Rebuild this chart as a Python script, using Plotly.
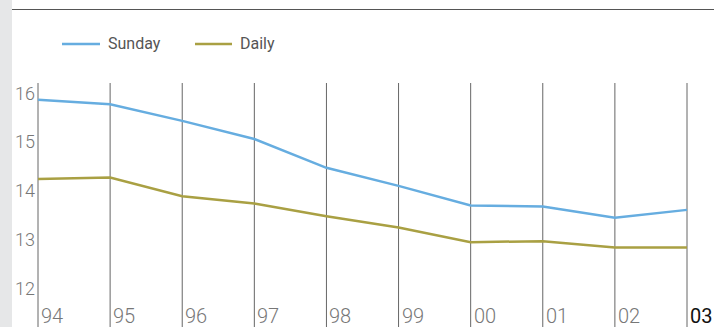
import plotly.graph_objects as go

# Circulation by year (millions)
years = ["94", "95", "96", "97", "98", "99", "00", "01", "02", "03"]
sunday = [15.86, 15.77, 15.43, 15.06, 14.47, 14.10, 13.70, 13.68, 13.45, 13.61]
daily = [14.24, 14.27, 13.89, 13.74, 13.48, 13.25, 12.95, 12.97, 12.84, 12.84]
series_names = ["Sunday", "Daily"]
series_colors = ["#66ade0", "#a9a043"]
y_ticks = [12, 13, 14, 15, 16]

W, H = 714, 327
FONT = "Roboto"

x_idx = list(range(len(years)))

fig = go.Figure()
for name, vals, col in zip(series_names, [sunday, daily], series_colors):
    fig.add_trace(go.Scatter(
        x=x_idx, y=vals, mode="lines", name=name,
        line=dict(color=col, width=2.5), showlegend=False,
        hoverinfo="skip",
    ))

shapes = []
annotations = []

# grey strip on the left edge
shapes.append(dict(type="rect", xref="paper", yref="paper",
                   x0=0, x1=12 / W, y0=0, y1=1,
                   fillcolor="#e6e7e8", line=dict(width=0), layer="below"))
# rule across the top
shapes.append(dict(type="line", xref="paper", yref="paper",
                   x0=12 / W, x1=1, y0=1 - 9.5 / H, y1=1 - 9.5 / H,
                   line=dict(color="#555555", width=1.2)))

# vertical year dividers with labels beside them
for i, lab in enumerate(years):
    last = i == len(years) - 1
    shapes.append(dict(type="line", xref="x", yref="paper",
                       x0=i, x1=i, y0=0, y1=1 - 83 / H,
                       line=dict(color="#666666", width=1), layer="below"))
    annotations.append(dict(x=i, y=1 - 316 / H, xref="x", yref="paper",
                            text=lab, showarrow=False, xanchor="left",
                            yanchor="middle", xshift=1,
                            font=dict(family=FONT, size=20,
                                      weight=400 if last else 300,
                                      color="#111111" if last else "#777777")))

# y value labels
for v in y_ticks:
    annotations.append(dict(x=37 / W, y=v, xref="paper", yref="y",
                            text=str(v), showarrow=False, xanchor="right",
                            yanchor="middle",
                            font=dict(family=FONT, size=18, weight=300, color="#777777")))

# legend
legend_x = [(62, 100, 106), (195, 232, 238)]
for (lx0, lx1, tx), name, col in zip(legend_x, series_names, series_colors):
    ly = 1 - 44 / H
    shapes.append(dict(type="line", xref="paper", yref="paper",
                       x0=lx0 / W, x1=lx1 / W, y0=ly, y1=ly,
                       line=dict(color=col, width=2.5)))
    annotations.append(dict(x=tx / W, y=ly, xref="paper", yref="paper",
                            text=name, showarrow=False, xanchor="left",
                            yanchor="middle",
                            font=dict(family=FONT, size=16, color="#555555")))

x_px0, x_step = 38, (687 - 38) / 9
y_px0, y_step = 93, 48.9

fig.update_layout(
    width=W, height=H,
    margin=dict(l=0, r=0, t=0, b=0),
    paper_bgcolor="white", plot_bgcolor="white",
    xaxis=dict(range=[-x_px0 / x_step, (W - x_px0) / x_step],
               showgrid=False, zeroline=False, showticklabels=False, fixedrange=True),
    yaxis=dict(range=[16 - (H - y_px0) / y_step, 16 + y_px0 / y_step],
               showgrid=False, zeroline=False, showticklabels=False, fixedrange=True),
    shapes=shapes, annotations=annotations,
)

fig.write_html("out.html")
